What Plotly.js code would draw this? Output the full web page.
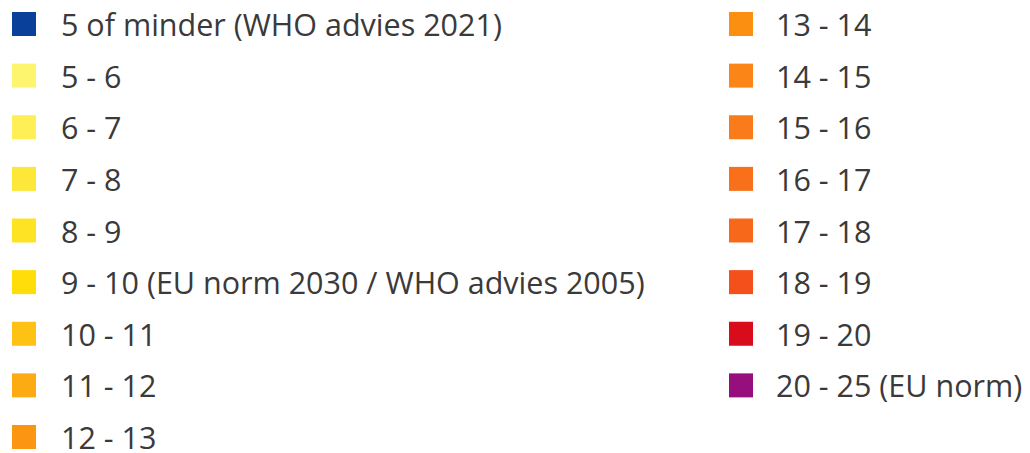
<!DOCTYPE html>
<html><head><meta charset="utf-8">
<script src="https://cdn.plot.ly/plotly-3.0.1.min.js"></script>
<style>html,body{margin:0;padding:0;background:#fff}#chart{width:1030px;height:453px}</style>
</head><body><div id="chart"></div>
<script>
const labels = [
  "5 of minder (WHO advies 2021)", "5 - 6", "6 - 7", "7 - 8", "8 - 9",
  "9 - 10 (EU norm 2030 / WHO advies 2005)", "10 - 11", "11 - 12", "12 - 13",
  "13 - 14", "14 - 15", "15 - 16", "16 - 17", "17 - 18", "18 - 19", "19 - 20",
  "20 - 25 (EU norm)"
];
const colors = [
  "#08409a", "#fdf56e", "#fdef55", "#fde83a", "#fee324",
  "#fedd0a", "#fdc213", "#fcac12", "#fb9512",
  "#fb8f12", "#fb8516", "#fa7b19", "#f9701b", "#f8681b", "#f3501b", "#d90c1c",
  "#960f7c"
];
const column = [0,0,0,0,0,0,0,0,0, 1,1,1,1,1,1,1,1];
const row    = [0,1,2,3,4,5,6,7,8, 0,1,2,3,4,5,6,7];

const trace = {
  type: "scatter", mode: "markers",
  x: column, y: row,
  marker: {symbol: "square", size: 24, color: colors, line: {width: 0}},
  hoverinfo: "text", text: labels
};
const annotations = labels.map((t, i) => ({
  x: column[i], y: row[i], xref: "x", yref: "y",
  text: t, showarrow: false, xanchor: "left", yanchor: "middle",
  xshift: column[i] === 0 ? 35 : 33,
  font: {family: "'Open Sans', sans-serif", size: 30.5, color: "#3a3a3a"}
}));
const layout = {
  width: 1030, height: 453,
  margin: {l: 0, r: 0, t: 0, b: 0},
  paper_bgcolor: "#fff", plot_bgcolor: "#fff",
  showlegend: false,
  xaxis: {range: [-24/717, (1030-24)/717], visible: false, fixedrange: true},
  yaxis: {range: [(453-24)/51.625, -24/51.625], visible: false, fixedrange: true},
  annotations: annotations
};
Plotly.newPlot("chart", [trace], layout, {staticPlot: true, displayModeBar: false});
</script></body></html>
